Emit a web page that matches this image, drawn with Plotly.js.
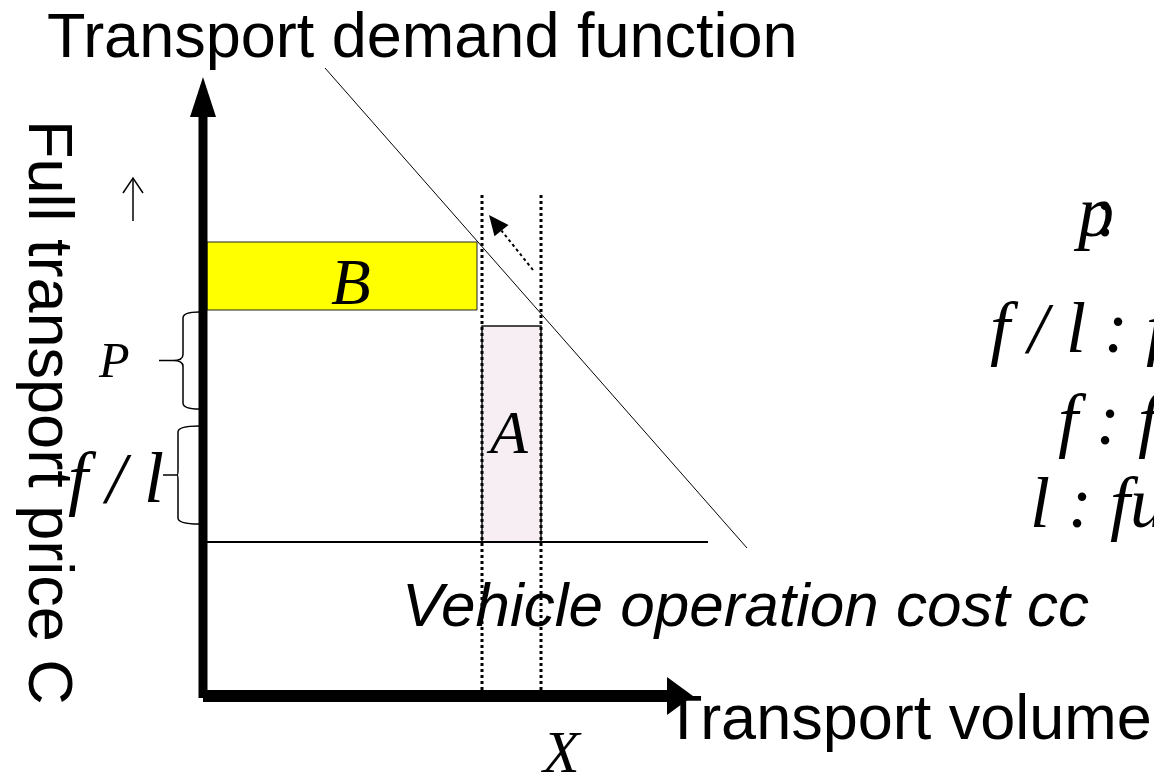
<!DOCTYPE html>
<html><head><meta charset="utf-8">
<script src="https://cdn.plot.ly/plotly-3.0.1.min.js"></script>
<style>html,body{margin:0;padding:0;overflow:hidden;background:#fff}</style>
</head><body><div id="chart" style="width:1154px;height:776px"></div>
<script>
// Diagram coordinates: origin at the axes' corner; x = transport volume, y = full transport price.
const demandX = [122, 544];          // transport demand function
const demandY = [628, 148];
const costLevel = 154;               // vehicle operation cost cc
const costLineX = [4, 505];
const volumeBefore = 279;            // X before fare change
const volumeAfter = 338;             // X after
const bandBY = [386, 454];           // area B (price band)
const bandBX = [4, 274];
const areaATop = 370;                // area A top
const dottedY = [6, 503];
const shiftFrom = [330, 426];        // dotted arrow along demand
const shiftTo = [286, 481];
const braceP = [287, 384, -44];      // bottom, top, tip
const braceFL = [172, 270, -40];
const axisXEnd = [464, 490];         // shaft end, arrow tip
const axisYEnd = [579, 619];
const upArrow = [-70, 475, 518];     // small "up" arrow: x, bottom, top

const SANS = 'Liberation Sans, Arial, sans-serif';
const SERIF = 'Liberation Serif, Times New Roman, serif';

const traces = [
  {x:[bandBX[0],bandBX[1],bandBX[1],bandBX[0],bandBX[0]], y:[bandBY[0],bandBY[0],bandBY[1],bandBY[1],bandBY[0]],
   mode:'lines', fill:'toself', fillcolor:'#ffff00', line:{color:'#222', width:1}},
  {x:[volumeBefore,volumeAfter,volumeAfter,volumeBefore,volumeBefore], y:[costLevel,costLevel,areaATop,areaATop,costLevel],
   mode:'lines', fill:'toself', fillcolor:'#f6eef3', line:{color:'#111', width:1.5}},
  {x:costLineX, y:[costLevel,costLevel], mode:'lines', line:{color:'#000', width:2}},
  {x:demandX, y:demandY, mode:'lines', line:{color:'#000', width:1}},
  {x:[volumeBefore,volumeBefore], y:dottedY, mode:'lines', line:{color:'#000', width:3, dash:'dot'}},
  {x:[volumeAfter,volumeAfter], y:dottedY, mode:'lines', line:{color:'#000', width:3, dash:'dot'}},
  {x:[upArrow[0],upArrow[0]], y:[upArrow[1],upArrow[2]], mode:'lines', line:{color:'#000', width:1.5}},
  {x:[upArrow[0]-10,upArrow[0],upArrow[0]+10], y:[upArrow[2]-15,upArrow[2],upArrow[2]-15], mode:'lines', line:{color:'#000', width:1.5}}
];

// dotted shift arrow
const dx = shiftTo[0]-shiftFrom[0], dy = shiftTo[1]-shiftFrom[1];
const L = Math.hypot(dx, dy), ux = dx/L, uy = dy/L, px = -uy, py = ux;
const hl = 20, hw = 9;
const bx = shiftTo[0]-ux*hl, by = shiftTo[1]-uy*hl;
traces.push({x:[shiftFrom[0], bx], y:[shiftFrom[1], by], mode:'lines', line:{color:'#000', width:2, dash:'dot'}});

function brace(b, xs) {
  const bot=b[0], top=b[1], tip=b[2], mid=(bot+top)/2, sp=xs, r=-4;
  return `M ${r},${top} Q ${sp},${top} ${sp},${top-6} L ${sp},${mid+6} Q ${sp},${mid} ${tip+14},${mid} L ${tip},${mid} L ${tip+14},${mid} Q ${sp},${mid} ${sp},${mid-6} L ${sp},${bot+6} Q ${sp},${bot} ${r},${bot}`;
}

const shapes = [
  {type:'line', xref:'x', yref:'y', x0:0, x1:0, y0:-2, y1:axisYEnd[0], line:{color:'#000', width:9}},
  {type:'line', xref:'x', yref:'y', x0:0, x1:axisXEnd[0], y0:0, y1:0, line:{color:'#000', width:12}},
  {type:'path', xref:'x', yref:'y', path:`M -13,${axisYEnd[0]} L 13,${axisYEnd[0]} L 0,${axisYEnd[1]} Z`, fillcolor:'#000', line:{width:0}},
  {type:'path', xref:'x', yref:'y', path:`M ${axisXEnd[0]},-19 L ${axisXEnd[0]},19 L ${axisXEnd[1]},0 Z`, fillcolor:'#000', line:{width:0}},
  {type:'path', xref:'x', yref:'y', path:`M ${shiftTo[0]},${shiftTo[1]} L ${bx+px*hw},${by+py*hw} L ${bx-px*hw},${by-py*hw} Z`, fillcolor:'#000', line:{width:0}},
  {type:'path', xref:'x', yref:'y', path:brace(braceP, -20), line:{color:'#000', width:1.5}},
  {type:'path', xref:'x', yref:'y', path:brace(braceFL, -25), line:{color:'#000', width:1.5}}
];

function ann(text, x, y, size, family, extra) {
  return Object.assign({text, x, y, xref:'x', yref:'y', showarrow:false, xanchor:'left', yanchor:'middle',
    font:{size, family, color:'#000'}}, extra||{});
}

const annotations = [
  ann('Transport demand function', -158, 661, 63, SANS),
  ann('Transport volume', 459, -21, 63, SANS),
  ann('<i>Vehicle operation cost cc</i>', 197, 92, 62, SANS),
  ann('Full transport price C', -152, 284, 63, SANS, {xanchor:'center', textangle:90}),
  ann('<i>B</i>', 148, 414, 65, SERIF, {xanchor:'center'}),
  ann('<i>A</i>', 304, 264, 62, SERIF, {xanchor:'center'}),
  ann('<i>P</i>', -89, 336, 50, SERIF, {xanchor:'center'}),
  ann('<i>f / l</i>', -87, 218, 72, SERIF, {xanchor:'center'}),
  ann('<i>X</i>', 358, -56, 60, SERIF, {xanchor:'center'}),
  ann('<i>p</i>', 868, 484, 72, SERIF),
  ann(':', 902, 484, 72, SERIF, {xanchor:'center'}),
  ann('<i>f / l : fixed cost per unit length</i>', 785, 368, 72, SERIF),
  ann('<i>f : fixed cost</i>', 853, 276, 72, SERIF),
  ann('<i>l : full trip length</i>', 825, 193, 72, SERIF)
];

const layout = {
  width:1154, height:776, margin:{l:0,r:0,t:0,b:0}, showlegend:false,
  paper_bgcolor:'#fff', plot_bgcolor:'#fff',
  xaxis:{range:[-203, 951], visible:false, fixedrange:true},
  yaxis:{range:[-80, 696], visible:false, fixedrange:true},
  shapes, annotations
};
Plotly.newPlot('chart', traces.map(t=>Object.assign({hoverinfo:'skip', type:'scatter'}, t)), layout, {staticPlot:true});
</script></body></html>
